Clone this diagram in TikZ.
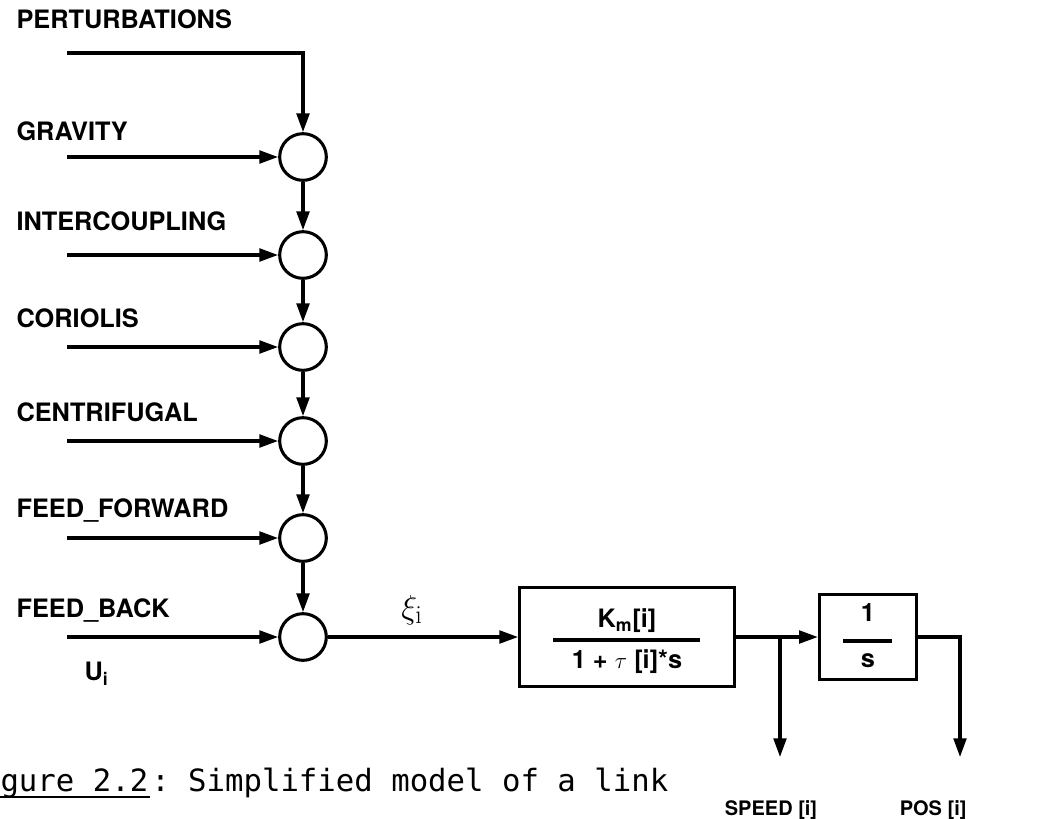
\documentclass[tikz,border=0pt]{standalone}
\usepackage{fontspec}
\setsansfont{TeX Gyre Heros}
\setmonofont{DejaVu Sans Mono}
\usetikzlibrary{arrows.meta,positioning}

\begin{document}
\begin{tikzpicture}[x=0.75pt, y=-0.75pt, >={Triangle[length=14pt,width=9.5pt]},
  line width=2.3pt,
  sumnode/.style={circle, draw, minimum size=35pt, inner sep=0pt},
  blockbox/.style={draw, rectangle, inner sep=0pt},
  inlabel/.style={font=\sffamily\bfseries\fontsize{19}{21}\selectfont, anchor=base west, inner sep=0pt},
  outlabel/.style={font=\sffamily\bfseries\fontsize{15}{17}\selectfont, inner sep=0pt},
  fraclabel/.style={font=\sffamily\bfseries\fontsize{19}{21}\selectfont, inner sep=0pt},
  captext/.style={font=\ttfamily\fontsize{23}{25}\selectfont, anchor=base west, inner sep=0pt}]
  \useasboundingbox (0,0) rectangle (1059,818);

  % Perturbation input, enters the first junction from above
  \coordinate (pin) at (67,53);
  \node[inlabel] (labp) at (15,28) {PERTURBATIONS};

  % Summing junctions with their inputs
  \foreach \i/\y/\yl/\txt in {1/157/140/GRAVITY, 2/255/230/INTERCOUPLING,
      3/347/327/CORIOLIS, 4/441/421/CENTRIFUGAL,
      5/538/517/FEED\_FORWARD, 6/637/617/FEED\_BACK} {
    \node[sumnode] (s\i) at (303,\y) {};
    \coordinate (in\i) at (67,\y);
    \node[inlabel] (lab\i) at (15,\yl) {\txt};
    \draw[->] (in\i) -- (s\i);
  }
  \draw[->] (pin) -| (s1);

  % Chain of junctions
  \foreach \i in {1,...,5} {
    \pgfmathtruncatemacro{\j}{\i+1}
    \draw[->] (s\i) -- (s\j);
  }

  \node[inlabel] (ulab) at (83,680) {U\textsubscript{i}};
  \node[font=\fontsize{28}{30}\selectfont, inner sep=0pt] (xilab) at (412,610) {$\xi_{\mathrm{i}}$};

  % Motor block K_m/(1+tau s)
  \node[blockbox, minimum width=161pt, minimum height=74pt] (motor) at (627,637) {};
  \node[fraclabel] (mnum) at (627,621) {K\textsubscript{m}[i]};
  \node[fraclabel] (mden) at (627,662) {1 + $\tau$ [i]*s};
  \draw (553,640) -- (700,640);

  % Integrator 1/s
  \node[blockbox, minimum width=73pt, minimum height=64pt] (integ) at (868,637) {};
  \node[fraclabel] (inum) at (868,613) {1};
  \node[fraclabel] (iden) at (868,661) {s};
  \draw (843,641) -- (892,641);

  % Connections
  \coordinate (br) at (780,637);
  \coordinate (spd) at (780,757);
  \coordinate (pc) at (960,637);
  \coordinate (pos) at (960,757);
  \draw[->] (s6) -- (motor);
  \draw[->] (motor) -- (integ);
  \draw[->] (br) -- (spd);
  \draw[->] (integ) -- (pc) -- (pos);

  \node[outlabel, anchor=base] (spdlab) at (771,815) {SPEED [i]};
  \node[outlabel, anchor=base east] (poslab) at (968,815) {POS [i]};

  % Caption
  \node[captext] (capa) at (-1,791) {gure 2.2};
  \node[captext] (capb) at (capa.base east) {: Simplified model of a link};
  \draw[line width=1.4pt] ([yshift=-4.5pt]capa.base west) -- ([yshift=-4.5pt]capa.base east);
\end{tikzpicture}
\end{document}
